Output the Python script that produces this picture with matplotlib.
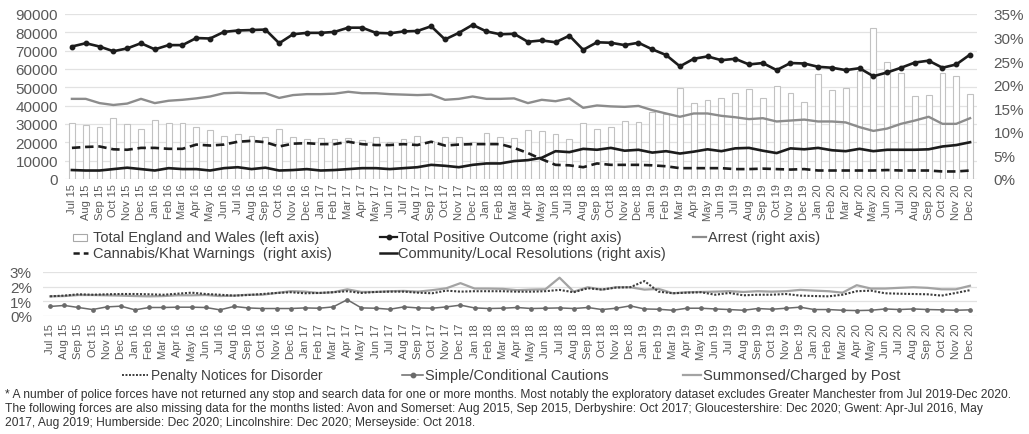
import numpy as np
import matplotlib
matplotlib.use("Agg")
import matplotlib.pyplot as plt
from matplotlib.ticker import MultipleLocator, PercentFormatter
from matplotlib.lines import Line2D
from matplotlib.patches import Rectangle
from matplotlib import font_manager

# ---------------------------------------------------------------- data
months = ["Jul 15", "Aug 15", "Sep 15", "Oct 15", "Nov 15", "Dec 15",
          "Jan 16", "Feb 16", "Mar 16", "Apr 16", "May 16", "Jun 16",
          "Jul 16", "Aug 16", "Sep 16", "Oct 16", "Nov 16", "Dec 16",
          "Jan 17", "Feb 17", "Mar 17", "Apr 17", "May 17", "Jun 17",
          "Jul 17", "Aug 17", "Sep 17", "Oct 17", "Nov 17", "Dec 17",
          "Jan 18", "Feb 18", "Mar 18", "Apr 18", "May 18", "Jun 18",
          "Jul 18", "Aug 18", "Sep 18", "Oct 18", "Nov 18", "Dec 18",
          "Jan 19", "Feb 19", "Mar 19", "Apr 19", "May 19", "Jun 19",
          "Jul 19", "Aug 19", "Sep 19", "Oct 19", "Nov 19", "Dec 19",
          "Jan 20", "Feb 20", "Mar 20", "Apr 20", "May 20", "Jun 20",
          "Jul 20", "Aug 20", "Sep 20", "Oct 20", "Nov 20", "Dec 20"]

# stop and search total, England and Wales (left axis)
total_ew = [30700, 29500, 28400, 33100, 30200, 27500, 32200, 30400, 30400, 28200,
            26500, 23500, 24500, 23300, 23100, 27500, 22700, 22000, 22300, 21800,
            22200, 21300, 22900, 20000, 21600, 23600, 20800, 22900, 23100, 20200,
            24900, 22700, 22500, 26700, 26000, 24700, 21800, 30400, 27100, 28500,
            31500, 31300, 36700, 35500, 49800, 41600, 43300, 44000, 46900, 48900,
            44200, 50500, 47100, 42200, 57300, 48500, 49600, 59100, 82200, 64000,
            58000, 45300, 46000, 58000, 56400, 46200]

# outcome rates, % of searches (right axis)
total_positive = [28.1, 28.8, 28.1, 27.1, 27.7, 28.8, 27.5, 28.4, 28.4, 29.9,
                  29.8, 31.2, 31.5, 31.6, 31.7, 28.8, 30.7, 31.0, 31.0, 31.2,
                  32.1, 32.1, 31.0, 30.9, 31.3, 31.4, 32.4, 29.6, 31.0, 32.7,
                  31.3, 30.7, 30.8, 29.1, 29.4, 29.0, 30.4, 27.4, 29.0, 28.9,
                  28.4, 28.9, 27.5, 26.3, 23.9, 25.5, 26.0, 25.2, 25.5, 24.3,
                  24.6, 23.1, 24.6, 24.5, 23.8, 23.6, 23.1, 23.5, 21.8, 22.6,
                  23.6, 24.7, 25.1, 23.6, 24.3, 26.4]

arrest = [17.0, 17.0, 16.1, 15.7, 16.0, 17.0, 16.1, 16.6, 16.8, 17.1,
          17.5, 18.2, 18.3, 18.2, 18.2, 17.2, 17.8, 18.0, 18.0, 18.1,
          18.5, 18.2, 18.2, 18.0, 17.9, 17.8, 17.9, 16.8, 17.0, 17.5,
          17.0, 17.0, 17.1, 16.1, 16.8, 16.5, 17.1, 15.1, 15.6, 15.4,
          15.3, 15.5, 14.6, 13.9, 13.2, 13.9, 13.9, 13.4, 13.1, 12.7,
          12.9, 12.2, 12.4, 12.6, 12.2, 12.2, 12.0, 11.0, 10.2, 10.7,
          11.7, 12.4, 13.2, 11.7, 11.7, 12.9]

cannabis_khat = [6.6, 6.8, 6.9, 6.3, 6.2, 6.6, 6.6, 6.4, 6.4, 7.3,
                 7.1, 7.3, 7.9, 8.1, 7.8, 6.9, 7.5, 7.6, 7.4, 7.4,
                 7.9, 7.4, 7.2, 7.2, 7.4, 7.2, 7.9, 7.1, 7.3, 7.4,
                 7.4, 7.4, 6.6, 5.5, 4.2, 3.0, 2.9, 2.5, 3.3, 3.0,
                 3.0, 3.0, 2.9, 2.7, 2.3, 2.3, 2.3, 2.3, 2.1, 2.1,
                 2.2, 2.1, 2.0, 2.1, 1.8, 1.8, 1.8, 1.8, 1.8, 1.9,
                 1.8, 1.8, 1.8, 1.6, 1.6, 1.8]

community = [1.9, 1.8, 1.8, 2.1, 2.4, 2.1, 1.8, 2.3, 2.1, 2.1,
             1.8, 2.3, 2.5, 2.1, 2.4, 1.8, 1.9, 2.1, 1.8, 1.9,
             2.1, 2.3, 2.3, 2.1, 2.3, 2.5, 3.0, 2.8, 2.5, 3.0,
             3.3, 3.3, 3.8, 4.0, 4.5, 5.9, 5.7, 6.4, 6.2, 6.6,
             6.0, 6.2, 5.6, 5.9, 5.4, 5.8, 6.3, 5.9, 6.5, 6.6,
             6.0, 5.5, 6.5, 6.3, 6.6, 6.1, 5.9, 6.4, 5.9, 6.2,
             6.2, 6.2, 6.3, 6.9, 7.2, 7.8]

# smaller outcome rates, % of searches (lower panel)
penalty_notices = [1.34, 1.39, 1.48, 1.45, 1.48, 1.50, 1.50, 1.48, 1.45, 1.52,
                   1.59, 1.50, 1.45, 1.39, 1.43, 1.50, 1.57, 1.62, 1.55, 1.57,
                   1.62, 1.69, 1.57, 1.64, 1.66, 1.66, 1.59, 1.55, 1.73, 1.66,
                   1.69, 1.69, 1.69, 1.66, 1.66, 1.69, 1.78, 1.62, 1.89, 1.80,
                   1.94, 1.96, 2.38, 1.66, 1.55, 1.59, 1.62, 1.45, 1.57, 1.41,
                   1.45, 1.45, 1.50, 1.39, 1.36, 1.34, 1.45, 1.69, 1.73, 1.55,
                   1.52, 1.50, 1.48, 1.39, 1.57, 1.76]

cautions = [0.65, 0.72, 0.58, 0.44, 0.62, 0.67, 0.42, 0.58, 0.58, 0.60,
            0.60, 0.58, 0.42, 0.65, 0.55, 0.51, 0.51, 0.51, 0.55, 0.53,
            0.62, 1.11, 0.55, 0.53, 0.46, 0.62, 0.55, 0.53, 0.62, 0.74,
            0.55, 0.51, 0.53, 0.58, 0.51, 0.53, 0.55, 0.51, 0.58, 0.44,
            0.53, 0.69, 0.48, 0.46, 0.39, 0.53, 0.53, 0.48, 0.44, 0.39,
            0.51, 0.46, 0.53, 0.60, 0.44, 0.44, 0.39, 0.37, 0.39, 0.48,
            0.44, 0.48, 0.44, 0.42, 0.39, 0.42]

summoned_post = [1.34, 1.36, 1.43, 1.43, 1.41, 1.39, 1.36, 1.34, 1.36, 1.41,
                 1.41, 1.43, 1.36, 1.39, 1.45, 1.45, 1.57, 1.69, 1.66, 1.57,
                 1.62, 1.82, 1.64, 1.64, 1.69, 1.71, 1.66, 1.76, 1.89, 2.24,
                 1.87, 1.87, 1.85, 1.76, 1.80, 1.82, 2.61, 1.66, 1.96, 1.80,
                 1.96, 1.96, 1.80, 1.85, 1.55, 1.62, 1.64, 1.66, 1.69, 1.64,
                 1.69, 1.66, 1.69, 1.78, 1.73, 1.69, 1.59, 2.10, 1.87, 1.87,
                 1.92, 1.96, 1.92, 1.82, 1.82, 2.06]

legend_top = ["Total England and Wales (left axis)",
              "Total Positive Outcome (right axis)",
              "Arrest (right axis)",
              "Cannabis/Khat Warnings  (right axis)",
              "Community/Local Resolutions (right axis)"]
legend_bottom = ["Penalty Notices for Disorder",
                 "Simple/Conditional Cautions",
                 "Summonsed/Charged by Post"]
footnote = [
    "* A number of police forces have not returned any stop and search data for one or more months. "
    "Most notably the exploratory dataset excludes Greater Manchester from Jul 2019-Dec 2020.",
    "The following forces are also missing data for the months listed: Avon and Somerset: Aug 2015, "
    "Sep 2015, Derbyshire: Oct 2017; Gloucestershire: Dec 2020; Gwent: Apr-Jul 2016, May",
    "2017, Aug 2019; Humberside: Dec 2020; Lincolnshire: Dec 2020; Merseyside: Oct 2018.",
]

# ---------------------------------------------------------------- style
installed = {f.name for f in font_manager.fontManager.ttflist}
NARROW = "Liberation Sans Narrow" if "Liberation Sans Narrow" in installed else "Liberation Sans"
plt.rcParams["font.family"] = ["Liberation Sans", "DejaVu Sans"]

W, H = 1029, 435
TICK = "#595959"
TEXT = "#404040"
BLACK = "#1c1c1c"
GREY = "#8c8c8c"
GRID = "#e2e2e2"

fig = plt.figure(figsize=(W / 100, H / 100), dpi=100)
fig.patch.set_facecolor("white")


def fx(px):
    return px / W


def fy(py):
    return 1 - py / H


def style_axes(a):
    for s in a.spines.values():
        s.set_visible(False)
    a.tick_params(axis="both", length=0)


x = np.arange(len(months))

# ---------------------------------------------------------------- upper panel
ax = fig.add_axes([fx(65), fy(180), fx(977) - fx(65), fy(15) - fy(180)])
ax.bar(x, total_ew, width=0.42, color="white", edgecolor="#c2c2c2",
       linewidth=0.8, zorder=2)
ax.set_xlim(-0.5, len(months) - 0.5)
ax.set_ylim(0, 90000)
ax.yaxis.set_major_locator(MultipleLocator(10000))
ax.grid(axis="y", color=GRID, linewidth=0.9)
ax.set_axisbelow(True)
style_axes(ax)
ax.tick_params(axis="y", labelsize=11, labelcolor=TICK, pad=5)
ax.set_xticks(x)
ax.set_xticklabels(months, rotation=90, fontsize=8, color=TICK)
ax.tick_params(axis="x", pad=3)

ax2 = ax.twinx()
ax2.set_ylim(0, 35)
ax2.yaxis.set_major_locator(MultipleLocator(5))
ax2.yaxis.set_major_formatter(PercentFormatter(xmax=100, decimals=0))
style_axes(ax2)
ax2.tick_params(axis="y", labelsize=11, labelcolor=TICK, pad=12)

ax2.plot(x, arrest, color=GREY, lw=1.7, zorder=3)
ax2.plot(x, cannabis_khat, color=BLACK, lw=1.9, ls=(0, (3.2, 1.8)), zorder=4)
ax2.plot(x, community, color=BLACK, lw=1.9, zorder=4)
ax2.plot(x, total_positive, color=BLACK, lw=1.9, marker="o", ms=3.2, zorder=5)

# ---------------------------------------------------------------- lower panel
axb = fig.add_axes([fx(43), fy(317), fx(977) - fx(43), fy(273) - fy(317)])
axb.set_xlim(-0.5, len(months) - 0.5)
axb.set_ylim(0, 3)
axb.yaxis.set_major_locator(MultipleLocator(1))
axb.yaxis.set_major_formatter(PercentFormatter(xmax=100, decimals=0))
axb.grid(axis="y", color=GRID, linewidth=0.9)
axb.set_axisbelow(True)
style_axes(axb)
axb.tick_params(axis="y", labelsize=11, labelcolor=TICK, pad=8)
axb.set_xticks(x)
axb.set_xticklabels(months, rotation=90, fontsize=8, color=TICK)
axb.tick_params(axis="x", pad=5)

axb.plot(x, summoned_post, color="#a3a3a3", lw=1.6, zorder=3)
axb.plot(x, penalty_notices, color="#3c3c3c", lw=1.5, ls=(0, (1, 0.8)), zorder=4)
axb.plot(x, cautions, color="#6a6a6a", lw=1.1, marker="o", ms=2.4, zorder=5)


# ---------------------------------------------------------------- legends
def handle_line(x0, x1, y, marker=None, **kw):
    fig.add_artist(Line2D([fx(x0), fx(x1)], [fy(y), fy(y)],
                          transform=fig.transFigure, **kw))
    if marker:
        fig.add_artist(Line2D([fx((x0 + x1) / 2)], [fy(y)], marker=marker,
                              transform=fig.transFigure, ls="none",
                              color=kw.get("color"), ms=3.2))


def label(px_x, px_y, s, **kw):
    return fig.text(fx(px_x), fy(px_y), s, ha="left", va="center", **kw)


r1, r2 = 238, 254
fig.add_artist(Rectangle((fx(73), fy(r1 + 3.5)), fx(87) - fx(73), fy(r1 - 3.5) - fy(r1 + 3.5),
                         transform=fig.transFigure, facecolor="white",
                         edgecolor="#a8a8a8", lw=0.8))
label(93, r1, legend_top[0], fontsize=10.5, color=TEXT)
handle_line(380, 397, r1, marker="o", color=BLACK, lw=1.6)
label(398, r1, legend_top[1], fontsize=10.5, color=TEXT)
handle_line(693, 706, r1, color=GREY, lw=1.6)
label(708, r1, legend_top[2], fontsize=10.5, color=TEXT)
handle_line(73, 88, r2, color=BLACK, lw=1.8, ls=(0, (2.5, 1.6)))
label(93, r2, legend_top[3], fontsize=10.5, color=TEXT)
handle_line(380, 397, r2, color=BLACK, lw=1.8)
label(398, r2, legend_top[4], fontsize=10.5, color=TEXT)

renderer = fig.canvas.get_renderer()


def fit(text, target_px):
    w = text.get_window_extent(renderer).width
    text.set_fontsize(text.get_fontsize() * target_px / w)


rb = 376
handle_line(122, 148, rb, color="#3c3c3c", lw=1.4, ls=(0, (1, 0.8)))
fit(label(151, rb, legend_bottom[0], fontsize=10, color=TEXT, family=NARROW), 172)
handle_line(402, 423, rb, marker="o", color="#6a6a6a", lw=1.1)
fit(label(425, rb, legend_bottom[1], fontsize=10, color=TEXT, family=NARROW), 182)
handle_line(683, 701, rb, color="#a3a3a3", lw=1.6)
fit(label(703, rb, legend_bottom[2], fontsize=10, color=TEXT, family=NARROW), 197)

notes = [label(5, y, s, fontsize=8, color="#333333", family=NARROW)
         for y, s in zip([395, 409, 423], footnote)]
w0 = notes[0].get_window_extent(renderer).width
for t in notes:
    t.set_fontsize(8 * 1015 / w0)

fig.savefig("out.png", dpi=100, facecolor="white")
